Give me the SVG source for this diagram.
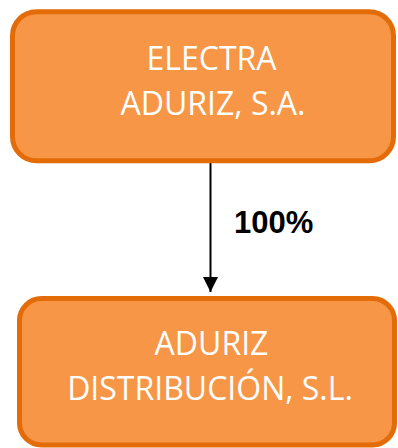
<svg xmlns="http://www.w3.org/2000/svg" width="398" height="448" viewBox="0 0 398 448">
<style>
.box{fill:#F79646;stroke:#E36C09;stroke-width:5}
.lbl{font-family:"Open Sans","Liberation Sans",sans-serif;font-size:32px;fill:#FFFFFF;text-anchor:middle}
.pct{font-family:"Liberation Sans",Arial,sans-serif;font-size:31px;font-weight:bold;fill:#000000}
.edge{stroke:#000000;stroke-width:2;fill:none}
</style>
<defs>
<marker id="arr" markerWidth="15" markerHeight="15" refX="15" refY="7.5" orient="auto" markerUnits="userSpaceOnUse">
<path d="M0,0 L15,7.5 L0,15 Z" fill="#000000"/>
</marker>
</defs>
<g id="connectors">
<line class="edge" x1="210.5" y1="163" x2="210.5" y2="292" marker-end="url(#arr)"/>
<text class="pct" x="234" y="233">100%</text>
</g>
<g id="node-electra">
<rect class="box" x="12.5" y="11.8" width="381" height="149" rx="24" ry="24"/>
<text class="lbl" x="211.5" y="69.5">ELECTRA</text>
<text class="lbl" x="213" y="114.5">ADURIZ, S.A.</text>
</g>
<g id="node-aduriz-distribucion">
<rect class="box" x="19.5" y="298.5" width="375" height="146.5" rx="22" ry="22"/>
<text class="lbl" x="211.5" y="355">ADURIZ</text>
<text class="lbl" x="210" y="400">DISTRIBUCIÓN, S.L.</text>
</g>
</svg>
